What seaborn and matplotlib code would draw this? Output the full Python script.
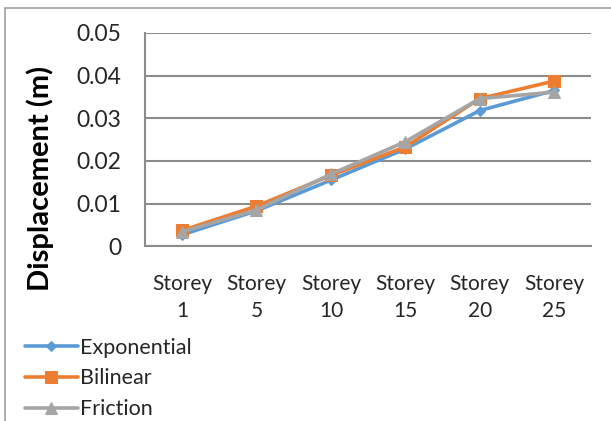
import numpy as np
import pandas as pd
import seaborn as sns
import matplotlib
matplotlib.use("Agg")
import matplotlib.pyplot as plt
from matplotlib.patches import Rectangle

# Storey displacement for three isolator models
storeys = ["Storey\n1", "Storey\n5", "Storey\n10", "Storey\n15", "Storey\n20", "Storey\n25"]
exponential = [0.0027, 0.0083, 0.0155, 0.0228, 0.0318, 0.0365]
bilinear = [0.0037, 0.0094, 0.0166, 0.0233, 0.0346, 0.0387]
friction = [0.0034, 0.0085, 0.0169, 0.0245, 0.0346, 0.0361]
y_ticks = [0, 0.01, 0.02, 0.03, 0.04, 0.05]
y_tick_labels = ["0", "0.01", "0.02", "0.03", "0.04", "0.05"]

series_names = ["Exponential", "Bilinear", "Friction"]
colors = {"Exponential": "#5B9BD5", "Bilinear": "#ED7D31", "Friction": "#A5A5A5"}
markers = {"Exponential": "D", "Bilinear": "s", "Friction": "^"}
marker_sizes = {"Exponential": 5, "Bilinear": 8, "Friction": 8}

frames = []
for name, vals in zip(series_names, [exponential, bilinear, friction]):
    frames.append(pd.DataFrame({"pos": np.arange(len(storeys)), "disp": vals, "model": name}))
df = pd.concat(frames, ignore_index=True)

sns.set_theme(style="white")
plt.rcParams["font.family"] = ["Lato", "DejaVu Sans"]
text_color = "#262626"

fig = plt.figure(figsize=(6.11, 4.21), dpi=100)
ax = fig.add_axes([0.237, 0.415, 0.731, 0.507])

for name in series_names:
    sub = df[df["model"] == name]
    sns.lineplot(data=sub, x="pos", y="disp", ax=ax, color=colors[name],
                 marker=markers[name], markersize=marker_sizes[name],
                 markeredgecolor=colors[name], linewidth=2.6, label=name,
                 legend=False)

ax.set_xlim(-0.5, len(storeys) - 0.5)
ax.set_ylim(0, 0.05)
ax.set_xticks(range(len(storeys)))
ax.set_xticklabels(storeys, fontsize=15, color=text_color, linespacing=1.45)
ax.set_yticks(y_ticks)
ax.set_yticklabels(y_tick_labels, fontsize=16.5, color=text_color)
ax.tick_params(axis="x", length=0, pad=20)
ax.tick_params(axis="y", length=0, pad=17)
ax.yaxis.grid(True, color="#8C8C8C", linewidth=1.5)
ax.xaxis.grid(False)
for side in ["top", "right"]:
    ax.spines[side].set_visible(False)
for side in ["left", "bottom"]:
    ax.spines[side].set_color("#8C8C8C")
    ax.spines[side].set_linewidth(1.5)
ax.set_xlabel("")
ax.set_ylabel("Displacement (m)", fontsize=21, fontweight="bold", color="black")
ax.yaxis.set_label_coords(-0.203, 0.32)

# outer chart frame
fig.patches.append(Rectangle((5 / 611, -0.1), 1.2, 1.1 - 8 / 421, transform=fig.transFigure,
                             fill=False, edgecolor="#A0A0A0", linewidth=1.2))

handles, labels = ax.get_legend_handles_labels()
leg = fig.legend(handles, labels, loc="upper left", bbox_to_anchor=(0.041, 0.198),
                 frameon=False, fontsize=15.5, handlelength=2.45, handletextpad=0.1,
                 labelspacing=0.5, borderpad=0, borderaxespad=0)
for t in leg.get_texts():
    t.set_color(text_color)

fig.savefig("out.png", dpi=100)
